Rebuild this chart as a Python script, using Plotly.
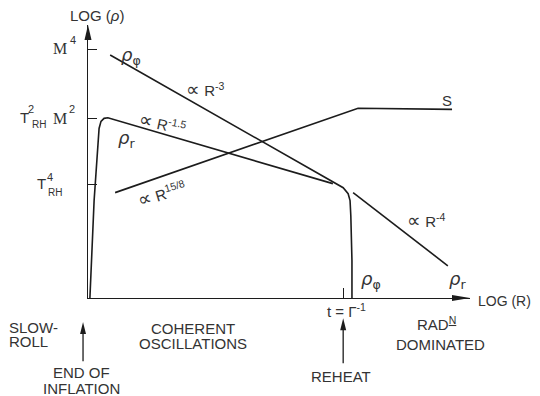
import plotly.graph_objects as go

# schematic energy densities vs scale factor (arbitrary log units)
phi_x = [0.58, 6.47, 6.68, 6.81, 6.86, 6.88, 6.91, 6.91]
phi_y = [8.90, 4.19, 4.04, 3.82, 3.57, 3.01, 1.36, 0.0]

rad_x = [0.05, 0.16, 0.29, 0.34, 0.42, 0.52, 6.41]
rad_y = [0.0, 3.57, 6.21, 6.47, 6.58, 6.60, 4.19]

rad_late_x = [6.94, 9.42]
rad_late_y = [3.86, 1.18]

s_x = [0.71, 7.07, 9.53]
s_y = [3.86, 6.95, 6.91]

ytick_vals = [9.10, 6.58, 4.15]  # M^4, T_RH^2 M^2, T_RH^4
xtick_vals = [6.68]              # t = 1/Gamma

INK = '#1c1c1c'
TXT = '#333333'
SANS = 'Liberation Sans'
SERIF = 'Liberation Serif'

# plot area in pixels (used only to size arrowheads)
PW, PH = 382, 273

fig = go.Figure()
for xs, ys in [(phi_x, phi_y), (rad_x, rad_y), (rad_late_x, rad_late_y), (s_x, s_y)]:
    fig.add_trace(go.Scatter(x=xs, y=ys, mode='lines', line=dict(color=INK, width=1.6),
                             showlegend=False, hoverinfo='skip'))


def head(x, y, direction, length, width):
    # filled arrowhead in paper coords, tip at (x, y)
    if direction == 'up':
        b = y - length / PH
        w = width / 2 / PW
        path = f'M{x},{y} L{x - w},{b} L{x + w},{b} Z'
    else:
        b = x - length / PW
        w = width / 2 / PH
        path = f'M{x},{y} L{b},{y - w} L{b},{y + w} Z'
    return dict(type='path', xref='paper', yref='paper', path=path,
                fillcolor=INK, line=dict(width=0))


shapes = [head(0, 1, 'up', 15, 7), head(1, 0, 'right', 18, 6)]
# event arrows below the axis
for ax_x, tip, tail in [(-0.013, -0.088, -0.232), (0.668, -0.074, -0.239)]:
    shapes.append(dict(type='line', xref='paper', yref='paper', x0=ax_x, x1=ax_x,
                       y0=tail, y1=tip - 0.02, line=dict(color=INK, width=1.3)))
    shapes.append(head(ax_x, tip, 'up', 12, 6))

ann = []


def txt(x, y, s, size=15, ref='paper', font=SANS, xanchor='center', angle=0):
    ann.append(dict(x=x, y=y, xref=ref, yref=ref if ref == 'paper' else 'y', text=s,
                    showarrow=False, xanchor=xanchor, yanchor='middle', textangle=angle,
                    font=dict(family=font, size=size, color=TXT)))


# y tick labels (stacked super/subscripts done by hand)
ann_y = [
    (ytick_vals[0], 'M', 16, SERIF, -28.5, 1.5), (ytick_vals[0], '4', 11, SANS, -15, 9.5),
    (ytick_vals[1], 'T', 15, SANS, -63.5, 0.5), (ytick_vals[1], '2', 11, SANS, -57, 9),
    (ytick_vals[1], 'RH', 10, SANS, -49, -6), (ytick_vals[1], 'M', 16, SERIF, -28.5, 0),
    (ytick_vals[1], '2', 11, SANS, -16, 9),
    (ytick_vals[2], 'T', 15, SANS, -47, 1.5), (ytick_vals[2], '4', 11, SANS, -38.5, 8),
    (ytick_vals[2], 'RH', 10, SANS, -33, -7.5),
]
for yv, s, size, font, dx, dy in ann_y:
    ann.append(dict(x=0, y=yv, xref='paper', yref='y', text=s, showarrow=False,
                    xanchor='center', yanchor='middle', xshift=dx, yshift=dy,
                    font=dict(family=font, size=size, color=TXT)))

PROP = "<span style='font-size:19px'>∝</span> "
RHO_PHI = '<i>ρ</i><sub>φ</sub>'
RHO_R = '<i>ρ</i><sub>r</sub>'

# curve labels
txt(1.13, 8.86, RHO_PHI, 18, ref='x', font='DejaVu Sans')
txt(3.06, 7.65, PROP + 'R<sup>-3</sup>', 15, ref='x')
txt(1.94, 6.40, PROP + 'R<sup>-1.5</sup>', 15, ref='x', angle=12)
txt(1.02, 5.81, RHO_R, 18, ref='x', font='DejaVu Sans')
txt(1.94, 3.82, PROP + 'R<sup>15/8</sup>', 15, ref='x', angle=-17)
txt(9.40, 7.24, 'S', 15, ref='x')
txt(8.85, 2.83, PROP + 'R<sup>-4</sup>', 15, ref='x')
txt(7.41, 0.66, RHO_PHI, 18, ref='x', font='DejaVu Sans')
txt(9.66, 0.66, RHO_R, 18, ref='x', font='DejaVu Sans')

# axis titles and epoch labels
txt(0.024, 1.036, 'LOG (<i>ρ</i>)', 15)
txt(1.017, -0.011, 'LOG (R)', 14, xanchor='left')
txt(0.678, -0.044, 't = Γ<sup>-1</sup>', 15)
txt(-0.212, -0.108, 'SLOW-', 15, xanchor='left')
txt(-0.212, -0.160, 'ROLL', 15, xanchor='left')
txt(0.275, -0.110, 'COHERENT', 15)
txt(0.275, -0.165, 'OSCILLATIONS', 15)
txt(-0.016, -0.272, 'END OF', 15)
txt(-0.016, -0.330, 'INFLATION', 15)
txt(0.662, -0.286, 'REHEAT', 15)
txt(0.911, -0.095, 'RAD<sup><u>N</u></sup>', 15)
txt(0.924, -0.172, 'DOMINATED', 15)

axis_style = dict(range=[0, 10], showline=True, linecolor=INK, linewidth=1.3,
                  ticks='inside', tickcolor=INK, tickwidth=1, showticklabels=False,
                  showgrid=False, zeroline=False, fixedrange=True)

# page body has an 8px margin, so the figure is 8px smaller than the window
fig.update_layout(
    width=532, height=388,
    margin=dict(l=80, r=70, t=17, b=98),
    paper_bgcolor='white', plot_bgcolor='white',
    xaxis=dict(axis_style, tickvals=xtick_vals, ticklen=10),
    yaxis=dict(axis_style, tickvals=ytick_vals, ticklen=9),
    shapes=shapes, annotations=ann,
)

fig.write_html('out.html')
